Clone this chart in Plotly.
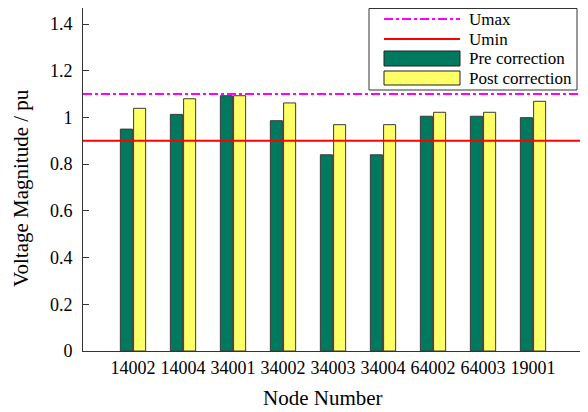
import plotly.graph_objects as go

nodes = ["14002", "14004", "34001", "34002", "34003", "34004", "64002", "64003", "19001"]
pre_correction = [0.950, 1.013, 1.093, 0.986, 0.840, 0.840, 1.005, 1.005, 0.999]
post_correction = [1.039, 1.080, 1.093, 1.062, 0.969, 0.969, 1.022, 1.022, 1.069]
u_max = 1.1
u_min = 0.9
y_ticks = [0, 0.2, 0.4, 0.6, 0.8, 1.0, 1.2, 1.4]
y_ticktext = ["0", "0.2", "0.4", "0.6", "0.8", "1", "1.2", "1.4"]
legend_labels = ["Umax", "Umin", "Pre correction", "Post correction"]
x_title = "Node Number"
y_title = "Voltage Magnitude / pu"

FONT = "Liberation Serif"
GREEN = "#007A5E"
YELLOW = "#FFFF66"
EDGE = "#3a3a3a"
OFF = 8  # page body margin

# plot-area box in window pixels
L, R, T, B = 83, 583, 8, 351
FIG_W, FIG_H = 588 - OFF, 412 - OFF
Y_TOP = 1.4 * (B - T) / (351 - 24)

x_idx = list(range(len(nodes)))

fig = go.Figure()
fig.add_trace(go.Bar(x=x_idx, y=pre_correction, name="Pre correction",
                     marker=dict(color=GREEN, line=dict(color=EDGE, width=1)),
                     showlegend=False))
fig.add_trace(go.Bar(x=x_idx, y=post_correction, name="Post correction",
                     marker=dict(color=YELLOW, line=dict(color=EDGE, width=1)),
                     showlegend=False))

# reference lines
fig.add_shape(type="line", xref="paper", x0=0, x1=1, yref="y", y0=u_max, y1=u_max,
              line=dict(color="#FF00FF", width=2, dash="dashdot"), layer="above")
fig.add_shape(type="line", xref="paper", x0=0, x1=1, yref="y", y0=u_min, y1=u_min,
              line=dict(color="#FF0000", width=2), layer="above")

def px(x):
    return (x - L) / (R - L)
def py(y):
    return (B - y) / (B - T)

# legend box
fig.add_shape(type="rect", xref="paper", yref="paper",
              x0=px(369), x1=px(577), y0=py(90), y1=py(8.5),
              line=dict(color="#333333", width=1), fillcolor="white", layer="above")
fig.add_shape(type="line", xref="paper", yref="paper",
              x0=px(384), x1=px(460), y0=py(19), y1=py(19),
              line=dict(color="#FF00FF", width=2, dash="dashdot"), layer="above")
fig.add_shape(type="line", xref="paper", yref="paper",
              x0=px(384), x1=px(460), y0=py(39), y1=py(39),
              line=dict(color="#FF0000", width=2), layer="above")
fig.add_shape(type="rect", xref="paper", yref="paper",
              x0=px(384), x1=px(460), y0=py(66), y1=py(51),
              line=dict(color="#222222", width=1), fillcolor=GREEN, layer="above")
fig.add_shape(type="rect", xref="paper", yref="paper",
              x0=px(384), x1=px(460), y0=py(85), y1=py(71),
              line=dict(color="#222222", width=1), fillcolor=YELLOW, layer="above")

legend_y = [19.5, 39.5, 58.5, 78]
for lab, yy in zip(legend_labels, legend_y):
    fig.add_annotation(text=lab, xref="paper", yref="paper", x=px(467), y=py(yy),
                       xanchor="left", yanchor="middle", showarrow=False,
                       font=dict(family=FONT, size=17, color="black"))

# axis titles
fig.add_annotation(text=x_title, xref="paper", yref="paper", x=px(323), y=py(398),
                   xanchor="center", yanchor="middle", showarrow=False,
                   font=dict(family=FONT, size=21, color="black"))
fig.add_annotation(text=y_title, xref="paper", yref="paper", x=px(21), y=py(188),
                   xanchor="center", yanchor="middle", showarrow=False, textangle=-90,
                   font=dict(family=FONT, size=21, color="black"))

fig.update_layout(
    width=FIG_W, height=FIG_H,
    margin=dict(l=L - OFF, r=FIG_W - (R - OFF), t=T - OFF, b=FIG_H - (B - OFF), pad=0),
    paper_bgcolor="white", plot_bgcolor="white",
    barmode="group", bargap=0.47, bargroupgap=0.09,
    font=dict(family=FONT, size=18, color="black"),
    showlegend=False,
)
fig.update_xaxes(
    range=[-1, 9], tickmode="array", tickvals=x_idx, ticktext=nodes,
    showline=True, linecolor="#333333", linewidth=1, mirror=True,
    ticks="", showgrid=False, zeroline=False,
    tickfont=dict(family=FONT, size=18),
)
fig.update_yaxes(
    range=[0, Y_TOP], tickmode="array", tickvals=y_ticks, ticktext=y_ticktext,
    showline=True, linecolor="#333333", linewidth=1, mirror=True,
    ticks="inside", ticklen=6, tickcolor="#333333", ticklabelstandoff=6,
    showgrid=False, zeroline=False,
    tickfont=dict(family=FONT, size=18),
)

fig.write_html("out.html")
